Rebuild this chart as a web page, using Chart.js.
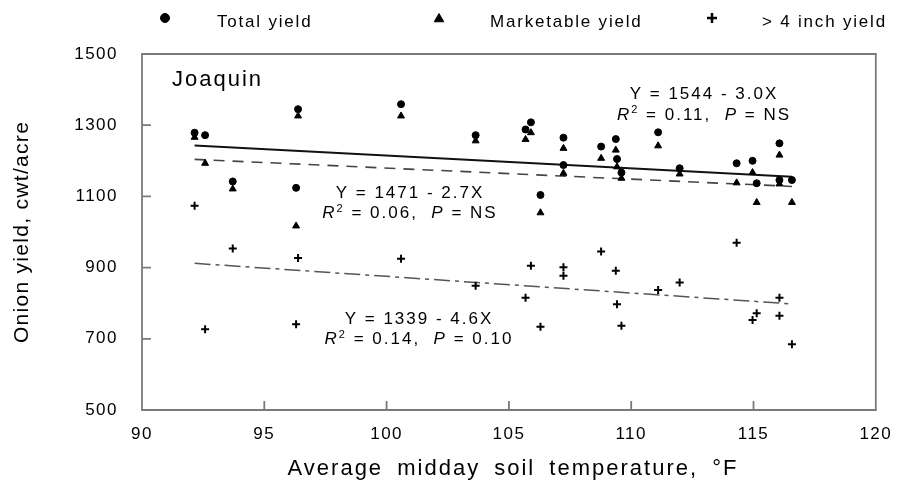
<!DOCTYPE html>
<html>
<head>
<meta charset="utf-8">
<script src="https://cdn.jsdelivr.net/npm/chart.js@4.4.1/dist/chart.umd.min.js"></script>
<style>
  body { margin: 0; background: #fff; }
  canvas { display: block; }
</style>
</head>
<body>
<canvas id="onionChart" width="904" height="484"></canvas>
<script>
// values (temperature in °F, yield in cwt/acre)
const temps       = [92.15, 92.58, 93.71, 96.30, 96.38, 100.59, 103.64, 105.68, 105.90, 106.29, 107.23, 107.23,
                     108.77, 109.37, 109.42, 109.60, 111.10, 111.98, 114.31, 114.96, 115.13, 116.06, 116.06, 116.57];
const totalYield  = [1279, 1272, 1142, 1124, 1345, 1359, 1272, 1288, 1308, 1104, 1265, 1188,
                     1240, 1261, 1205, 1167, 1280, 1179, 1193, 1200, 1137, 1249, 1146, 1146];
const marketYield = [1266, 1193, 1121, 1017, 1326, 1326, 1256, 1260, 1279, 1054, 1235, 1165,
                     1207, 1230, 1183, 1151, 1242, 1163, 1138, 1167, 1083, 1216, 1135, 1083];
const bigYield    = [1074, 727, 954, 741, 927, 925, 849, 815, 905, 734, 901, 877,
                     945, 891, 797, 737, 837, 858, 970, 753, 772, 815, 765, 685];

// regression line ends as drawn
const fitX      = [92.15, 116.57];
const totalFit  = [1243, 1155];
const marketFit = [1204, 1128];
const bigFit    = [912, 798];

const seriesNames = ['Total yield', 'Marketable yield', '> 4 inch yield'];
const xTicks = [90, 95, 100, 105, 110, 115, 120];
const yTicks = [500, 700, 900, 1100, 1300, 1500];

const FONT = '"Liberation Sans", Arial, sans-serif';

function pts(xs, ys) {
  return xs.map(function (x, i) { return {x: x, y: ys[i]}; });
}

// draws text made of pieces (italic / superscript) centred on cx
function richText(ctx, parts, cx, y, size, spacing) {
  ctx.save();
  ctx.letterSpacing = spacing + 'px';
  ctx.textBaseline = 'alphabetic';
  ctx.textAlign = 'left';
  ctx.fillStyle = '#000';
  const fontOf = function (p) {
    const s = p.sup ? Math.round(size * 0.62) : size;
    return (p.it ? 'italic ' : '') + s + 'px ' + FONT;
  };
  let w = 0;
  parts.forEach(function (p) { ctx.font = fontOf(p); w += ctx.measureText(p.t).width; });
  let x = cx - w / 2;
  parts.forEach(function (p) {
    ctx.font = fontOf(p);
    ctx.fillText(p.t, x, p.sup ? y - size * 0.38 : y);
    x += ctx.measureText(p.t).width;
  });
  ctx.restore();
}

function eqLines(eq, r2, p) {
  return [
    [{t: eq}],
    [{t: 'R', it: true}, {t: '2', sup: true}, {t: ' = ' + r2 + ',  '}, {t: 'P', it: true}, {t: ' = ' + p}]
  ];
}

const decorPlugin = {
  id: 'decor',
  beforeDraw: function (chart) {
    chart.ctx.letterSpacing = '1.5px';
  },
  afterDraw: function (chart) {
    const ctx = chart.ctx;
    const a = chart.chartArea;
    const xs = chart.scales.x, ys = chart.scales.y;

    // frame and inward ticks
    ctx.save();
    ctx.strokeStyle = '#7a7a7a';
    ctx.lineWidth = 1.8;
    ctx.setLineDash([]);
    ctx.beginPath();
    ctx.moveTo(a.left, a.top);
    ctx.lineTo(a.right, a.top);
    ctx.lineTo(a.right, a.bottom);
    ctx.lineTo(a.left, a.bottom);
    ctx.closePath();
    yTicks.forEach(function (v) {
      const py = ys.getPixelForValue(v);
      ctx.moveTo(a.left, py); ctx.lineTo(a.left + 9, py);
    });
    xTicks.forEach(function (v) {
      const px = xs.getPixelForValue(v);
      ctx.moveTo(px, a.bottom); ctx.lineTo(px, a.bottom - 9);
    });
    ctx.stroke();
    ctx.restore();

    // legend
    const legendMarks = [
      {style: 'circle', r: 4.5, x: 165, y: 18, tx: 217},
      {style: 'triangle', r: 5.5, x: 439, y: 19, tx: 490},
      {style: 'cross', r: 5, x: 712, y: 18, tx: 762}
    ];
    ctx.save();
    legendMarks.forEach(function (m, i) {
      ctx.fillStyle = '#000';
      ctx.strokeStyle = '#000';
      ctx.lineWidth = m.style === 'cross' ? 2.5 : 1;
      Chart.helpers.drawPoint(ctx, {pointStyle: m.style, radius: m.r, borderWidth: ctx.lineWidth, rotation: 0}, m.x, m.y);
      ctx.letterSpacing = '1.8px';
      ctx.font = '17px ' + FONT;
      ctx.textBaseline = 'alphabetic';
      ctx.textAlign = 'left';
      ctx.fillText(seriesNames[i], m.tx, 26.5);
    });

    // site label
    ctx.letterSpacing = '2px';
    ctx.font = '22px ' + FONT;
    ctx.fillText('Joaquin', 172, 85.5);

    // axis titles
    ctx.textAlign = 'center';
    ctx.font = '22px ' + FONT;
    ctx.letterSpacing = '2px';
    ctx.wordSpacing = '6px';
    ctx.fillText('Average midday soil temperature, \u00b0F', 513, 475);
    ctx.wordSpacing = '0px';
    ctx.translate(22, 232);
    ctx.rotate(-Math.PI / 2);
    ctx.textBaseline = 'middle';
    ctx.font = '21px ' + FONT;
    ctx.letterSpacing = '1.3px';
    ctx.fillText('Onion yield, cwt/acre', 0, 0);
    ctx.restore();

    // regression equations
    const eqs = [
      {lines: eqLines('Y = 1544 - 3.0X', '0.11', 'NS'), cx: 704, y: 99},
      {lines: eqLines('Y = 1471 - 2.7X', '0.06', 'NS'), cx: 410, y: 197.5},
      {lines: eqLines('Y = 1339 - 4.6X', '0.14', '0.10'), cx: 419, y: 323.5}
    ];
    eqs.forEach(function (e) {
      richText(ctx, e.lines[0], e.cx, e.y, 17, 2);
      richText(ctx, e.lines[1], e.cx, e.y + 20.5, 17, 2);
    });
  }
};

const ctx = document.getElementById('onionChart').getContext('2d');
new Chart(ctx, {
  type: 'scatter',
  data: {
    datasets: [
      {label: seriesNames[0], data: pts(temps, totalYield), pointStyle: 'circle', pointRadius: 3.5,
        backgroundColor: '#000', borderColor: '#000', borderWidth: 1, order: 0},
      {label: seriesNames[1], data: pts(temps, marketYield), pointStyle: 'triangle', pointRadius: 4,
        backgroundColor: '#000', borderColor: '#000', borderWidth: 1, order: 0},
      {label: seriesNames[2], data: pts(temps, bigYield), pointStyle: 'cross', pointRadius: 4,
        backgroundColor: '#000', borderColor: '#000', borderWidth: 2, order: 0},
      {label: 'total fit', data: pts(fitX, totalFit), showLine: true, pointRadius: 0,
        borderColor: '#111', borderWidth: 2, order: 1},
      {label: 'marketable fit', data: pts(fitX, marketFit), showLine: true, pointRadius: 0,
        borderColor: '#444', borderWidth: 1.6, borderDash: [11, 8], order: 1},
      {label: '> 4 inch fit', data: pts(fitX, bigFit), showLine: true, pointRadius: 0,
        borderColor: '#555', borderWidth: 1.5, borderDash: [16, 5, 4, 5], order: 1}
    ]
  },
  options: {
    responsive: false,
    animation: false,
    layout: {padding: {top: 54, right: 18, left: 0, bottom: 0}},
    plugins: {
      legend: {display: false},
      tooltip: {enabled: false}
    },
    scales: {
      x: {
        type: 'linear',
        min: 90,
        max: 120,
        afterBuildTicks: function (scale) { scale.ticks = xTicks.map(function (v) { return {value: v}; }); },
        afterFit: function (scale) { scale.height = 74; },
        grid: {display: false, drawTicks: false},
        border: {display: false},
        ticks: {color: '#000', padding: 14, maxRotation: 0, font: {family: FONT, size: 17},
          callback: function (v) { return String(v); }}
      },
      y: {
        type: 'linear',
        min: 500,
        max: 1500,
        afterBuildTicks: function (scale) { scale.ticks = yTicks.map(function (v) { return {value: v}; }); },
        afterFit: function (scale) { scale.width = 142; },
        grid: {display: false, drawTicks: false},
        border: {display: false},
        ticks: {color: '#000', padding: 24, font: {family: FONT, size: 17},
          callback: function (v) { return String(v); }}
      }
    }
  },
  plugins: [decorPlugin]
});
</script>
</body>
</html>
